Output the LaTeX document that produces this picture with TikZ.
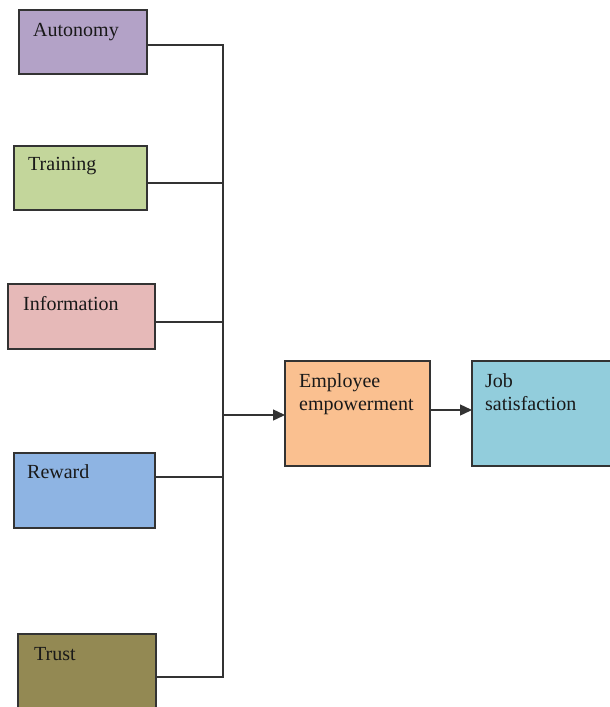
\documentclass[tikz,border=0pt]{standalone}
\usepackage{fontspec}
\setmainfont{Liberation Serif}
\usetikzlibrary{arrows.meta}
\definecolor{cauto}{HTML}{B3A2C7}
\definecolor{ctrain}{HTML}{C3D69B}
\definecolor{cinfo}{HTML}{E6B9B8}
\definecolor{creward}{HTML}{8EB4E3}
\definecolor{ctrust}{HTML}{938953}
\definecolor{cemp}{HTML}{FAC090}
\definecolor{cjob}{HTML}{92CDDC}
\definecolor{cline}{HTML}{333333}
\tikzset{
  boxst/.style={draw=cline, line width=1.6pt, inner sep=0pt, outer sep=0pt},
  lbl/.style={anchor=base west, inner sep=0pt, font=\fontsize{20}{23}\selectfont, align=left, text=black!90},
  conn/.style={draw=cline, line width=1.4pt},
  arr/.style={conn, -{Triangle[length=12pt,width=11pt]}}
}
\begin{document}
\begin{tikzpicture}[x=1pt,y=-1pt]
\useasboundingbox (0,0) rectangle (610,707);
% boxes
\path[boxst,fill=cauto] (19,10) rectangle (147,74);
\path[boxst,fill=ctrain] (14,146) rectangle (147,210);
\path[boxst,fill=cinfo] (8,284) rectangle (155,349);
\path[boxst,fill=creward] (14,453) rectangle (155,528);
\path[boxst,fill=ctrust] (18,634) rectangle (156,708);
\path[boxst,fill=cemp] (285,361) rectangle (430,466);
\path[boxst,fill=cjob] (472,361) rectangle (614,466);
% texts
\node[lbl] (tauto) at (33,36) {Autonomy};
\node[lbl] (ttrain) at (28,170) {Training};
\node[lbl] (tinfo) at (23,310) {Information};
\node[lbl] (treward) at (27,478) {Reward};
\node[lbl] (ttrust) at (34,660) {Trust};
\node[lbl] (temp) at (299,410) {Employee\\empowerment};
\node[lbl] (tjob) at (485,410) {Job\\satisfaction};
% anchor coordinates
\coordinate (aR) at (147,45);
\coordinate (trR) at (147,183);
\coordinate (iR) at (155,322);
\coordinate (rR) at (155,477);
\coordinate (tR) at (156,677);
\coordinate (vTop) at (223,45);
\coordinate (vBot) at (223,677);
\coordinate (vMid) at (223,415);
\coordinate (eL) at (285,415);
\coordinate (eR) at (430,410);
\coordinate (jL) at (472,410);
% connectors
\draw[conn] (aR) -- (vTop) -- (vBot) -- (tR);
\draw[conn] (trR) -- (223,183);
\draw[conn] (iR) -- (223,322);
\draw[conn] (rR) -- (223,477);
\draw[arr] (vMid) -- (eL);
\draw[arr] (eR) -- (jL);
\end{tikzpicture}
\end{document}
